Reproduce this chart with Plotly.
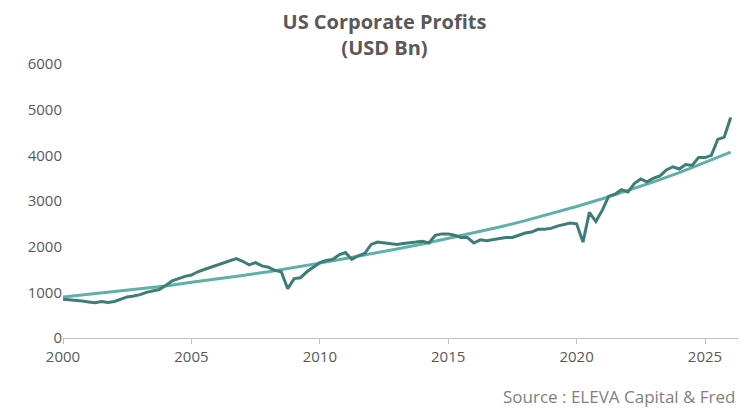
import pandas as pd
import plotly.graph_objects as go

# quarterly US corporate profits, USD bn (2000Q1 .. 2026Q1)
profits = [
    850, 840, 830, 810,
    790, 770, 800, 780,
    800, 850, 900, 920,
    950, 1000, 1030, 1060,
    1150, 1250, 1300, 1350,
    1380, 1450, 1500, 1550,
    1600, 1650, 1700, 1740,
    1680, 1600, 1650, 1580,
    1550, 1480, 1450, 1080,
    1300, 1320, 1450, 1550,
    1650, 1700, 1720, 1820,
    1870, 1720, 1800, 1850,
    2050, 2100, 2080, 2060,
    2050, 2070, 2080, 2100,
    2120, 2080, 2250, 2280,
    2280, 2250, 2200, 2200,
    2080, 2150, 2130, 2160,
    2180, 2200, 2200, 2250,
    2300, 2320, 2380, 2380,
    2400, 2450, 2480, 2520,
    2500, 2100, 2750, 2550,
    2800, 3100, 3150, 3250,
    3200, 3380, 3480, 3420,
    3500, 3550, 3680, 3750,
    3700, 3800, 3780, 3950,
    3950, 4000, 4350, 4400,
    4830,
]
quarters = pd.date_range("2000-01-01", periods=len(profits), freq="QS")

trend_years = ["2000-01-01", "2001-01-01", "2002-01-01", "2003-01-01", "2004-01-01",
               "2005-01-01", "2006-01-01", "2007-01-01", "2008-01-01", "2009-01-01",
               "2010-01-01", "2011-01-01", "2012-01-01", "2013-01-01", "2014-01-01",
               "2015-01-01", "2016-01-01", "2017-01-01", "2018-01-01", "2019-01-01",
               "2020-01-01", "2021-01-01", "2022-01-01", "2023-01-01", "2024-01-01",
               "2025-01-01", "2026-01-01"]
trend = [900, 960, 1010, 1070, 1140, 1220, 1290, 1370, 1450, 1540,
         1640, 1740, 1840, 1950, 2060, 2180, 2300, 2430, 2570, 2720,
         2880, 3050, 3230, 3420, 3620, 3840, 4070]

tick_vals = ["2000-01-01", "2005-01-01", "2010-01-01", "2015-01-01", "2020-01-01", "2025-01-01"]
tick_text = ["2000", "2005", "2010", "2015", "2020", "2025"]

fig = go.Figure()
fig.add_trace(go.Scatter(x=trend_years, y=trend, mode="lines",
                         line=dict(color="#5fb0aa", width=3), name="Trend"))
fig.add_trace(go.Scatter(x=quarters, y=profits, mode="lines",
                         line=dict(color="#3e7c77", width=3), name="Profits"))

fig.update_layout(
    width=753, height=416,
    margin=dict(l=55, r=23, t=56, b=86),
    plot_bgcolor="white", paper_bgcolor="white",
    showlegend=False,
    font=dict(family="Open Sans, Liberation Sans, sans-serif", color="#595959", size=15),
    title=dict(text="<b>US Corporate Profits<br>(USD Bn)</b>", x=0.5, xanchor="center",
               yref="container", y=0.95, yanchor="top", automargin=False,
               font=dict(size=20, color="#595959")),
    xaxis=dict(range=["2000-01-01", "2026-04-15"], tickvals=tick_vals, ticktext=tick_text,
               showgrid=False, showline=True, linecolor="#bfbfbf", ticks="outside",
               tickcolor="#bfbfbf", ticklen=5, zeroline=False),
    yaxis=dict(range=[0, 6000], dtick=1000, showgrid=False, zeroline=False,
               showline=False),
    annotations=[dict(text="Source : ELEVA Capital & Fred", xref="paper", yref="paper",
                      x=1.0, y=-0.165, xanchor="right", yanchor="top", showarrow=False,
                      font=dict(size=17, color="#7f7f7f"))],
)

fig.write_html("out.html")
